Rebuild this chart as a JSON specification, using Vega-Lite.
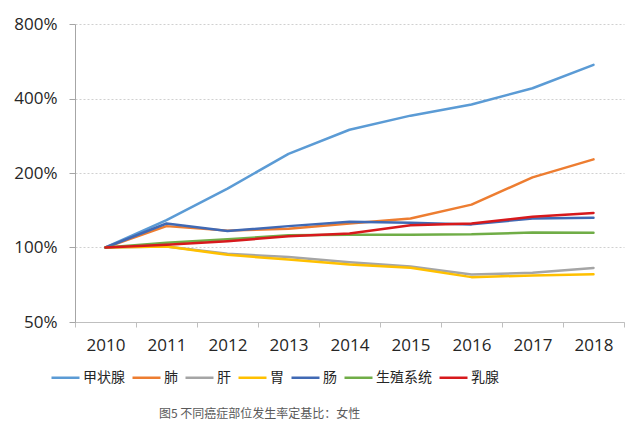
{
  "$schema": "https://vega.github.io/schema/vega-lite/v6.json",
  "width": 549,
  "height": 298,
  "autosize": {"type": "none"},
  "padding": {"left": 75, "top": 24, "right": 16, "bottom": 111},
  "background": "white",
  "config": {
    "view": {"stroke": null},
    "font": "Noto Sans CJK SC"
  },
  "title": {
    "text": "图5 不同癌症部位发生率定基比：女性",
    "orient": "bottom",
    "anchor": "start",
    "frame": "group",
    "dx": 84,
    "offset": 24,
    "font": "Noto Sans CJK SC",
    "fontSize": 12,
    "fontWeight": "normal",
    "color": "#595959"
  },
  "data": {
    "values": [
      {"year": 2010, "site": "甲状腺", "v": 100},
      {"year": 2011, "site": "甲状腺", "v": 129},
      {"year": 2012, "site": "甲状腺", "v": 173},
      {"year": 2013, "site": "甲状腺", "v": 239},
      {"year": 2014, "site": "甲状腺", "v": 299},
      {"year": 2015, "site": "甲状腺", "v": 341},
      {"year": 2016, "site": "甲状腺", "v": 378},
      {"year": 2017, "site": "甲状腺", "v": 440},
      {"year": 2018, "site": "甲状腺", "v": 547},
      {"year": 2010, "site": "肺", "v": 100},
      {"year": 2011, "site": "肺", "v": 122},
      {"year": 2012, "site": "肺", "v": 117},
      {"year": 2013, "site": "肺", "v": 119},
      {"year": 2014, "site": "肺", "v": 125},
      {"year": 2015, "site": "肺", "v": 131},
      {"year": 2016, "site": "肺", "v": 149},
      {"year": 2017, "site": "肺", "v": 192},
      {"year": 2018, "site": "肺", "v": 227},
      {"year": 2010, "site": "肝", "v": 100},
      {"year": 2011, "site": "肝", "v": 101},
      {"year": 2012, "site": "肝", "v": 94.3},
      {"year": 2013, "site": "肝", "v": 91.5},
      {"year": 2014, "site": "肝", "v": 87.2},
      {"year": 2015, "site": "肝", "v": 83.8},
      {"year": 2016, "site": "肝", "v": 77.8},
      {"year": 2017, "site": "肝", "v": 79},
      {"year": 2018, "site": "肝", "v": 82.7},
      {"year": 2010, "site": "胃", "v": 100},
      {"year": 2011, "site": "胃", "v": 101},
      {"year": 2012, "site": "胃", "v": 93.4},
      {"year": 2013, "site": "胃", "v": 89.4},
      {"year": 2014, "site": "胃", "v": 85.4},
      {"year": 2015, "site": "胃", "v": 82.8},
      {"year": 2016, "site": "胃", "v": 75.9},
      {"year": 2017, "site": "胃", "v": 77.1},
      {"year": 2018, "site": "胃", "v": 78},
      {"year": 2010, "site": "肠", "v": 100},
      {"year": 2011, "site": "肠", "v": 125},
      {"year": 2012, "site": "肠", "v": 116.5},
      {"year": 2013, "site": "肠", "v": 122},
      {"year": 2014, "site": "肠", "v": 127},
      {"year": 2015, "site": "肠", "v": 126},
      {"year": 2016, "site": "肠", "v": 124},
      {"year": 2017, "site": "肠", "v": 131},
      {"year": 2018, "site": "肠", "v": 132},
      {"year": 2010, "site": "生殖系统", "v": 100},
      {"year": 2011, "site": "生殖系统", "v": 104.5},
      {"year": 2012, "site": "生殖系统", "v": 108},
      {"year": 2013, "site": "生殖系统", "v": 112},
      {"year": 2014, "site": "生殖系统", "v": 112.5},
      {"year": 2015, "site": "生殖系统", "v": 112.5},
      {"year": 2016, "site": "生殖系统", "v": 113},
      {"year": 2017, "site": "生殖系统", "v": 115},
      {"year": 2018, "site": "生殖系统", "v": 114.6},
      {"year": 2010, "site": "乳腺", "v": 100},
      {"year": 2011, "site": "乳腺", "v": 102.5},
      {"year": 2012, "site": "乳腺", "v": 106},
      {"year": 2013, "site": "乳腺", "v": 111},
      {"year": 2014, "site": "乳腺", "v": 114},
      {"year": 2015, "site": "乳腺", "v": 123},
      {"year": 2016, "site": "乳腺", "v": 125},
      {"year": 2017, "site": "乳腺", "v": 133},
      {"year": 2018, "site": "乳腺", "v": 138}
    ]
  },
  "mark": {"type": "line", "strokeWidth": 2.5, "strokeCap": "round", "strokeJoin": "round"},
  "encoding": {
    "x": {
      "field": "year",
      "type": "quantitative",
      "scale": {"domain": [2009.5, 2018.5], "nice": false, "zero": false},
      "axis": {
        "title": null,
        "values": [2009.5, 2010.5, 2011.5, 2012.5, 2013.5, 2014.5, 2015.5, 2016.5, 2017.5, 2018.5],
        "labelExpr": "datum.value > 2018 ? '' : format(datum.value + 0.5, 'd')",
        "labelOffset": 30.5,
        "labelOverlap": false,
        "labelFlush": false,
        "labelBound": false,
        "grid": false,
        "domainColor": "#BFBFBF",
        "domainWidth": 1,
        "tickColor": "#BFBFBF",
        "tickSize": 5,
        "labelPadding": 10,
        "labelFont": "Open Sans",
        "labelFontSize": 17,
        "labelColor": "#262626"
      }
    },
    "y": {
      "field": "v",
      "type": "quantitative",
      "scale": {"type": "log", "domain": [50, 800], "nice": false},
      "axis": {
        "title": null,
        "values": [50, 100, 200, 400, 800],
        "labelExpr": "datum.value + '%'",
        "grid": true,
        "gridColor": "#D0D0D0",
        "gridDash": [2, 2],
        "gridWidth": 1,
        "domainColor": "#A6A6A6",
        "tickColor": "#A6A6A6",
        "tickSize": 6,
        "labelPadding": 12,
        "labelFont": "Open Sans",
        "labelFontSize": 17,
        "labelColor": "#262626"
      }
    },
    "color": {
      "field": "site",
      "type": "nominal",
      "sort": ["甲状腺", "肺", "肝", "胃", "肠", "生殖系统", "乳腺"],
      "scale": {
        "domain": ["甲状腺", "肺", "肝", "胃", "肠", "生殖系统", "乳腺"],
        "range": ["#5B9BD5", "#ED7D31", "#A5A5A5", "#FFC000", "#4069B4", "#70AD47", "#D7191C"]
      },
      "legend": {
        "title": null,
        "orient": "none",
        "direction": "horizontal",
        "columns": 7,
        "legendX": -25,
        "legendY": 338,
        "symbolType": "stroke",
        "symbolSize": 784,
        "symbolStrokeWidth": 2.5,
        "labelOffset": 2,
        "columnPadding": 2,
        "labelFont": "Noto Sans CJK SC",
        "labelFontSize": 14,
        "labelColor": "#262626"
      }
    },
    "strokeWidth": {
      "condition": {"test": "datum.site === '乳腺'", "value": 3},
      "value": 2.5
    },
    "order": {"field": "site", "sort": "ascending"}
  }
}
